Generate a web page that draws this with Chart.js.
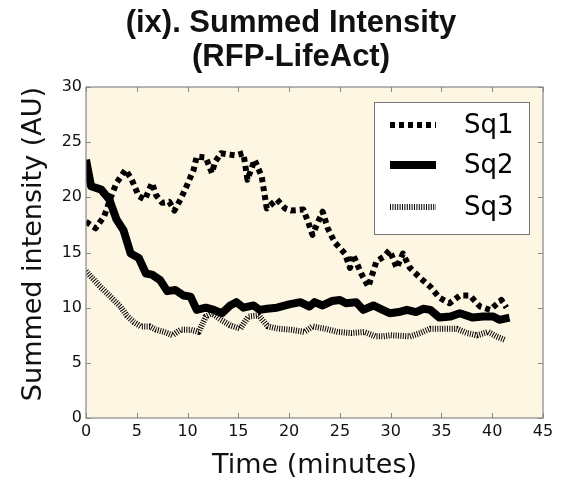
<!DOCTYPE html>
<html>
<head>
<meta charset="utf-8">
<script src="https://cdn.jsdelivr.net/npm/chart.js@4/dist/chart.umd.min.js"></script>
<style>
  html, body { margin: 0; padding: 0; background: #ffffff; }
  #wrap { width: 571px; height: 482px; position: relative; }
</style>
</head>
<body>
<div id="wrap"><canvas id="c" width="571" height="482"></canvas></div>
<script>
// ---- data ----
const titleLines = ['(ix). Summed Intensity', '(RFP-LifeAct)'];
const xAxisLabel = 'Time (minutes)';
const yAxisLabel = 'Summed intensity (AU)';
const seriesNames = ['Sq1', 'Sq2', 'Sq3'];
const xTicks = [0, 5, 10, 15, 20, 25, 30, 35, 40, 45];
const yTicks = [0, 5, 10, 15, 20, 25, 30];

const sq1Time = [0, 0.95, 1.8, 2.4, 3.0, 3.9, 4.5, 5.2, 5.8, 6.5, 6.9, 7.5, 8.2, 8.7, 9.3, 9.9, 10.6, 10.9, 11.8, 12.4, 12.7, 13.3, 13.9, 14.7, 15.5, 15.9, 16.6, 17.3, 17.8, 18.8, 19.6, 20.2, 21.4, 21.9, 22.3, 23.3, 23.8, 24.5, 25.5, 26.0, 26.3, 27.1, 27.8, 28.6, 29.3, 29.9, 30.6, 31.2, 31.9, 32.9, 33.9, 34.8, 35.8, 36.8, 37.8, 38.8, 39.8, 40.9, 41.4];
const sq1Values = [17.8, 17.2, 18.3, 19.9, 21.3, 22.5, 21.6, 20.1, 19.8, 21.3, 20.2, 19.5, 19.6, 18.8, 19.8, 21.0, 22.5, 23.7, 23.6, 22.2, 23.2, 24.0, 23.9, 23.8, 24.0, 21.6, 23.4, 21.9, 19.0, 19.8, 19.0, 18.8, 18.9, 17.7, 16.6, 18.7, 17.2, 15.9, 14.9, 13.6, 14.8, 13.1, 11.9, 14.2, 14.6, 15.2, 13.6, 14.9, 13.6, 12.7, 11.9, 10.9, 10.4, 11.1, 11.1, 10.1, 9.8, 10.7, 10.0];

const sq2Time = [0, 0.5, 1.5, 2.3, 3.0, 3.7, 4.4, 5.2, 5.9, 6.5, 7.3, 8.0, 8.8, 9.6, 10.3, 10.9, 11.8, 12.6, 13.4, 14.2, 14.8, 15.5, 16.5, 17.1, 17.8, 18.8, 20.0, 21.1, 22.0, 22.5, 23.3, 24.2, 25.0, 25.6, 26.6, 27.3, 28.3, 29.0, 29.9, 30.8, 31.6, 32.5, 33.2, 33.9, 34.8, 35.9, 36.8, 38.1, 39.1, 40.1, 40.7, 41.7];
const sq2Values = [23.4, 21.0, 20.7, 19.8, 18.0, 17.0, 14.9, 14.5, 13.1, 13.0, 12.5, 11.5, 11.6, 11.1, 11.0, 9.8, 10.0, 9.8, 9.5, 10.2, 10.5, 10.0, 10.2, 9.8, 9.9, 10.0, 10.3, 10.5, 10.1, 10.5, 10.2, 10.6, 10.7, 10.4, 10.5, 9.8, 10.2, 9.9, 9.5, 9.6, 9.8, 9.6, 9.9, 9.8, 9.1, 9.2, 9.5, 9.1, 9.2, 9.2, 8.9, 9.1];

const sq3Time = [0, 1.4, 2.4, 3.4, 4.0, 4.7, 5.4, 6.3, 6.9, 7.7, 8.5, 9.3, 10.3, 11.1, 11.8, 12.4, 13.3, 14.2, 15.2, 16.0, 17.0, 17.9, 18.9, 20.2, 21.5, 22.3, 23.5, 24.8, 26.1, 27.4, 28.5, 29.3, 30.0, 31.9, 32.9, 33.9, 35.1, 36.5, 37.5, 38.5, 39.6, 40.4, 41.2];
const sq3Values = [13.3, 11.9, 11.0, 10.1, 9.3, 8.7, 8.3, 8.3, 8.0, 7.8, 7.5, 8.0, 8.0, 7.8, 9.2, 9.5, 8.9, 8.4, 8.1, 9.2, 9.3, 8.3, 8.1, 8.0, 7.8, 8.3, 8.1, 7.8, 7.7, 7.8, 7.4, 7.4, 7.5, 7.4, 7.7, 8.1, 8.1, 8.1, 7.7, 7.5, 7.8, 7.4, 7.1];

// ---- styles ----
const styles = [
  { width: 6, dash: [5, 4], color: '#000000' },
  { width: 8, dash: [], color: '#000000' },
  { width: 6, dash: [1, 1.4], color: '#000000' }
];

function pts(t, v) { return t.map((x, i) => ({ x: x, y: v[i] })); }

const allSeries = [pts(sq1Time, sq1Values), pts(sq2Time, sq2Values), pts(sq3Time, sq3Values)];

const datasets = allSeries.map((d, i) => ({
  label: seriesNames[i],
  data: d,
  borderColor: styles[i].color,
  borderWidth: styles[i].width,
  borderDash: styles[i].dash,
  borderCapStyle: 'butt',
  borderJoinStyle: 'round',
  pointRadius: 0,
  tension: 0,
  fill: false
}));

const BG = '#fdf6e3';
const SPINE = '#888888';

const framePlugin = {
  id: 'frame',
  beforeDraw(chart) {
    const a = chart.chartArea, ctx = chart.ctx;
    ctx.save();
    ctx.fillStyle = '#ffffff';
    ctx.fillRect(0, 0, chart.width, chart.height);
    ctx.fillStyle = BG;
    ctx.fillRect(a.left, a.top, a.right - a.left, a.bottom - a.top);
    ctx.restore();
  },
  afterDraw(chart) {
    const a = chart.chartArea, ctx = chart.ctx;
    const xs = chart.scales.x, ys = chart.scales.y;
    ctx.save();
    // inside tick marks on all sides
    ctx.strokeStyle = SPINE;
    ctx.lineWidth = 1;
    const L = 5;
    xTicks.forEach(v => {
      const p = Math.round(xs.getPixelForValue(v)) + 0.5;
      ctx.beginPath();
      ctx.moveTo(p, a.bottom); ctx.lineTo(p, a.bottom - L);
      ctx.moveTo(p, a.top); ctx.lineTo(p, a.top + L);
      ctx.stroke();
    });
    yTicks.forEach(v => {
      const p = Math.round(ys.getPixelForValue(v)) + 0.5;
      ctx.beginPath();
      ctx.moveTo(a.left, p); ctx.lineTo(a.left + L, p);
      ctx.moveTo(a.right, p); ctx.lineTo(a.right - L, p);
      ctx.stroke();
    });
    // spines
    ctx.strokeStyle = SPINE;
    ctx.lineWidth = 1.2;
    ctx.strokeRect(a.left, a.top, a.right - a.left, a.bottom - a.top);

    // legend box
    const bx = 374, by = 102, bw = 155, bh = 132;
    ctx.fillStyle = '#ffffff';
    ctx.fillRect(bx, by, bw, bh);
    ctx.strokeStyle = '#777777';
    ctx.lineWidth = 1;
    ctx.strokeRect(bx + 0.5, by + 0.5, bw, bh);
    const rows = [125, 165, 207];
    seriesNames.forEach((name, i) => {
      const s = styles[i];
      ctx.save();
      ctx.strokeStyle = s.color;
      ctx.lineWidth = s.width;
      ctx.setLineDash(s.dash);
      ctx.lineCap = 'butt';
      ctx.beginPath();
      ctx.moveTo(390, rows[i]);
      ctx.lineTo(436, rows[i]);
      ctx.stroke();
      ctx.restore();
      ctx.fillStyle = '#000000';
      ctx.font = '26px "DejaVu Sans"';
      ctx.textBaseline = 'middle';
      ctx.textAlign = 'left';
      ctx.fillText(name, 464, rows[i] + 1);
    });
    ctx.restore();
  }
};

new Chart(document.getElementById('c'), {
  type: 'line',
  data: { datasets: datasets },
  options: {
    responsive: false,
    animation: false,
    layout: { padding: { top: 0, right: 0, bottom: 0, left: 11 } },
    plugins: {
      legend: { display: false },
      tooltip: { enabled: false },
      title: {
        display: true,
        text: titleLines,
        color: '#111111',
        font: { family: '"Liberation Sans", Arial, sans-serif', size: 31, weight: 'bold', lineHeight: 1.1 },
        padding: { top: 6, bottom: 12.8 }
      }
    },
    scales: {
      x: {
        type: 'linear',
        min: 0, max: 45,
        afterFit(s) { s.height = 64; },
        afterBuildTicks(s) { s.ticks = xTicks.map(v => ({ value: v })); },
        grid: { display: false, drawTicks: false },
        border: { display: false },
        ticks: {
          color: '#111111',
          padding: 4,
          maxRotation: 0,
          font: { family: '"DejaVu Sans"', size: 16 }
        },
        title: {
          display: true,
          text: xAxisLabel,
          color: '#111111',
          font: { family: '"DejaVu Sans"', size: 27, lineHeight: 1.2 },
          padding: { top: 0, bottom: 0 }
        }
      },
      y: {
        type: 'linear',
        min: 0, max: 30,
        afterFit(s) { s.width = 75; },
        afterBuildTicks(s) { s.ticks = yTicks.map(v => ({ value: v })); },
        grid: { display: false, drawTicks: false },
        border: { display: false },
        ticks: {
          color: '#111111',
          padding: 4,
          font: { family: '"DejaVu Sans"', size: 16 }
        },
        title: {
          display: true,
          text: yAxisLabel,
          align: 'end',
          color: '#111111',
          font: { family: '"DejaVu Sans"', size: 27, lineHeight: 1.2 },
          padding: { top: 7, bottom: 0 }
        }
      },
      yRight: {
        type: 'linear',
        position: 'right',
        display: true,
        min: 0, max: 30,
        afterFit(s) { s.width = 28; },
        grid: { display: false, drawTicks: false },
        border: { display: false },
        ticks: { display: false }
      }
    }
  },
  plugins: [framePlugin]
});
</script>
</body>
</html>
